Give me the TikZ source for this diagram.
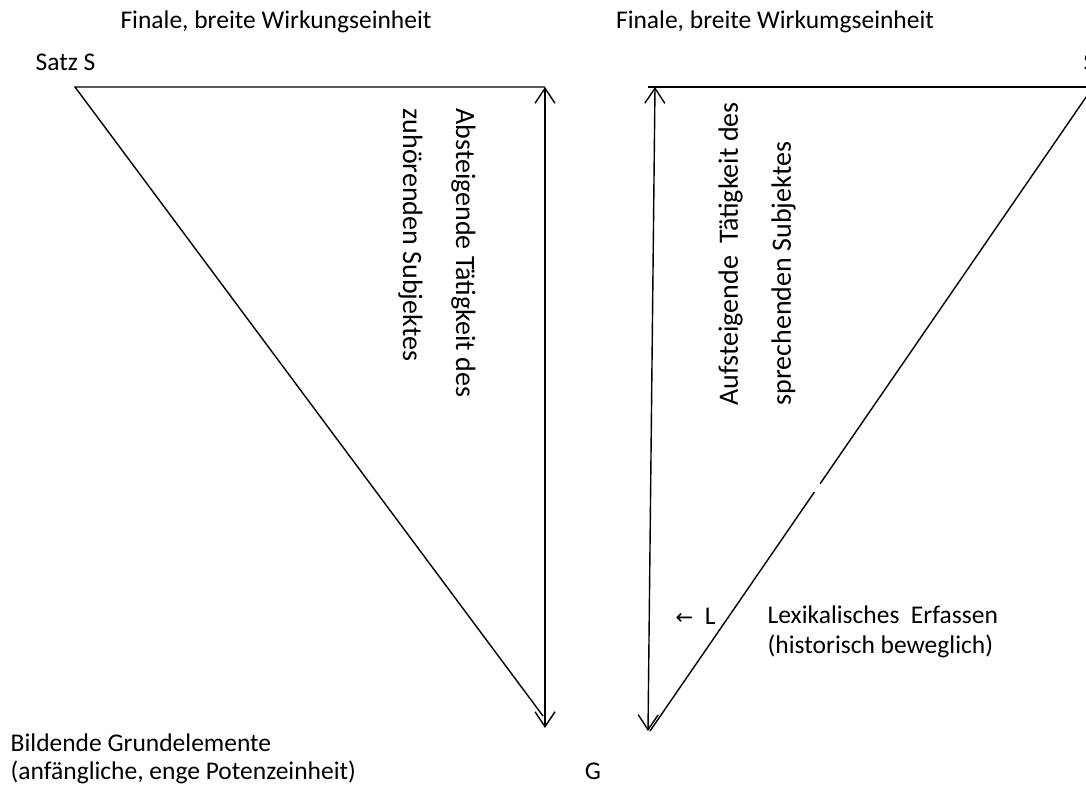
\documentclass[tikz,border=0pt]{standalone}
\usepackage{fontspec}
\setmainfont{Carlito}
\newfontfamily\arrowfont{DejaVu Sans}
\usetikzlibrary{arrows.meta,calc}

\begin{document}
\begin{tikzpicture}[x=1pt,y=-1pt,line width=1.4pt,
  lbl/.style={font=\fontsize{25.5}{28}\selectfont, inner sep=0pt},
  vlbl/.style={font=\fontsize{28}{28}\selectfont, inner sep=0pt, align=left, anchor=west},
  barb/.style={{Straight Barb[length=15pt,width=20pt]}-{Straight Barb[length=15pt,width=20pt]}}]
\useasboundingbox (0,0) rectangle (1086,787);

% left triangle (Satz S, zuhoerend)
\coordinate (satzL) at (75,87);
\coordinate (topL) at (545,87);
\coordinate (grundL) at (543,716);
\coordinate (endL) at (545,728);
\draw (grundL) -- (satzL) -- (topL);
\draw[barb] (topL) -- (endL);

% right triangle (sprechend)
\coordinate (topR) at (655,87);
\coordinate (satzR) at (1093,87);
\coordinate (grundR) at (650,731);
\coordinate (endR) at (648,731);
\draw (648,87) -- (satzR);
\draw (grundR) -- ($(grundR)!0.371!(satzR)$);
\draw ($(grundR)!0.384!(satzR)$) -- (satzR);
\draw[barb] (topR) -- (endR);

\node[lbl] (finL) at (276,22) {Finale, breite Wirkungseinheit};
\node[lbl] (finR) at (775,22) {Finale, breite Wirkumgseinheit};
\node[lbl, anchor=west] (satz) at (35,62) {Satz S};
\node[lbl, anchor=west] (satzS) at (1083,62) {S};

\node[vlbl, rotate=-90] (ab) at (437,108)
  {Absteigende Tätigkeit des\\[25pt]zuhörenden Subjektes};
\node[vlbl, rotate=90] (auf) at (757,406)
  {Aufsteigende\ \ Tätigkeit des\\[25pt]sprechenden Subjektes};

\node[lbl, anchor=west] (lpfeil) at (675,616) {{\arrowfont\fontsize{21}{22}\selectfont ←}\ \ L};
\node[lbl, anchor=west, align=left] (lex) at (767,632)
  {Lexikalisches\ \ Erfassen\\[2pt](historisch beweglich)};
\node[lbl, anchor=west, align=left] (bild) at (10,759)
  {Bildende Grundelemente\\(anfängliche, enge Potenzeinheit)};
\node[lbl] (g) at (593,771) {G};
\end{tikzpicture}
\end{document}
